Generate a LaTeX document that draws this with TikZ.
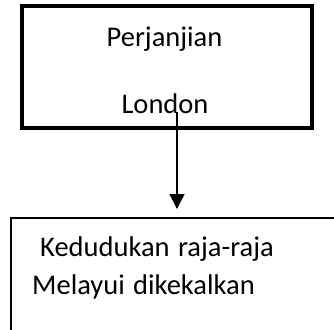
\documentclass[tikz,border=0pt]{standalone}
\usepackage{fontspec}
\setmainfont{Carlito}
\usetikzlibrary{arrows.meta}

\begin{document}
\begin{tikzpicture}[x=1pt,y=-1pt,font=\fontsize{28.5}{34}\selectfont,
  label/.style={text=black,inner sep=0pt}]
\useasboundingbox (0,0) rectangle (334,329);
\clip (0,0) rectangle (334,329);
\node [draw,line width=4pt,minimum width=290pt,minimum height=122pt,anchor=north west] (treaty) at (20,4) {};
\node [label,anchor=base] (perjanjian) at (164.5,46) {Perjanjian};
\node [label,anchor=base] (london) at (165,113) {London};
\node [draw,line width=2pt,minimum width=400pt,minimum height=200pt,anchor=north west] (status) at (10,217) {};
\node [label,anchor=base west] (kedudukan) at (40,256) {Kedudukan\hspace{2pt} raja-raja};
\node [label,anchor=base west] (melayu) at (32,294) {Melayui\hspace{2pt} dikekalkan};
\coordinate (start) at (177,112);
\draw [line width=1.3pt,-{Triangle[length=15pt,width=15pt]},shorten >=8pt] (start) -- (start |- status.north);
\end{tikzpicture}
\end{document}
